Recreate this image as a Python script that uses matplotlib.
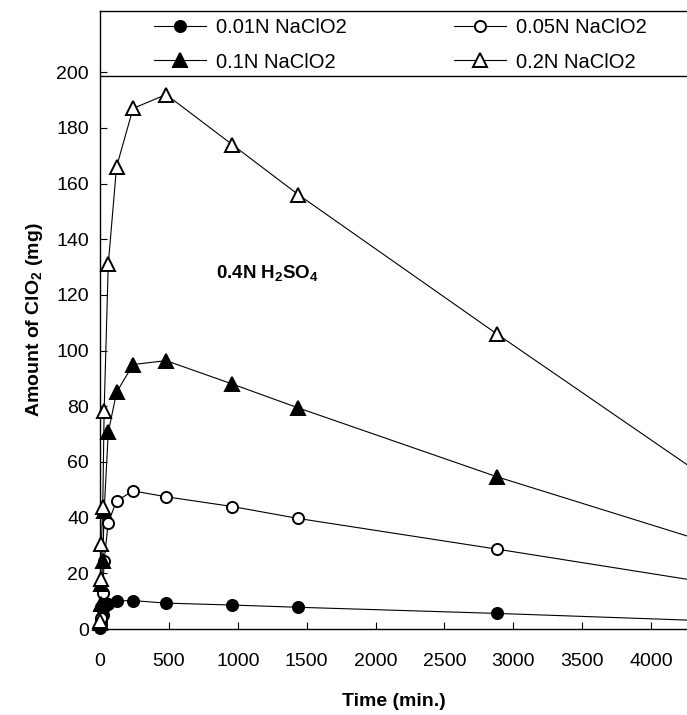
import matplotlib
matplotlib.use("Agg")
import matplotlib.pyplot as plt
from matplotlib.lines import Line2D

plt.rcParams['font.family'] = ['Liberation Sans', 'DejaVu Sans']
plt.rcParams['mathtext.fontset'] = 'custom'
plt.rcParams['mathtext.rm'] = 'Liberation Sans'
plt.rcParams['mathtext.bf'] = 'Liberation Sans:bold'

# time (min)
time = [1, 5, 10, 20, 30, 60, 120, 240, 480, 960, 1440, 2880, 4320]

naclo2_001 = [0.5, 1.5, 3, 5, 8, 9, 10.1, 10.2, 9.3, 8.6, 7.8, 5.6, 3.1]
naclo2_005 = [1, 4, 8, 13, 24.5, 38.2, 46, 49.6, 47.5, 44, 39.7, 28.7, 17.4]
naclo2_01 = [2, 9, 16, 24.5, 42.4, 70.6, 85, 95, 96.4, 88, 79.4, 54.7, 32.5]
naclo2_02 = [3, 17.9, 30.5, 44, 78.4, 131, 166, 187, 192, 174, 156, 106, 57]

labels = ['0.01N NaClO2', '0.05N NaClO2', '0.1N NaClO2', '0.2N NaClO2']
x_ticks = [0, 500, 1000, 1500, 2000, 2500, 3000, 3500, 4000]
y_ticks = [0, 20, 40, 60, 80, 100, 120, 140, 160, 180, 200]
x_max = 4260

fig = plt.figure(figsize=(6.87, 7.15), dpi=100)
ax = fig.add_axes([100/687, 1 - 629/715, 587/687, 618/715])

lw = 0.8
mew = 1.4
series = [
    (naclo2_001, 'o', 8, 'black'),
    (naclo2_005, 'o', 8, 'white'),
    (naclo2_01, '^', 9.5, 'black'),
    (naclo2_02, '^', 9.5, 'white'),
]
handles = []
for vals, mk, ms, fc in series:
    ax.plot(time, vals, '-', color='black', lw=lw)
    vis = [(t, v) for t, v in zip(time, vals) if t <= x_max]
    ax.plot([p[0] for p in vis], [p[1] for p in vis], linestyle='none', marker=mk,
            ms=ms, mfc=fc, mec='black', mew=mew, clip_on=False, zorder=3)
    handles.append(Line2D([], [], color='black', lw=lw, marker=mk, ms=ms, mfc=fc,
                          mec='black', mew=mew))

ax.set_xlim(0, x_max)
ax.set_ylim(0, 222)
ax.set_xticks(x_ticks)
ax.set_yticks(y_ticks)
ax.tick_params(direction='in', length=5, width=0.8, labelsize=14, pad=8)
ax.tick_params(axis='x', pad=17)
ax.spines['right'].set_visible(False)
for s in ['left', 'bottom', 'top']:
    ax.spines[s].set_linewidth(1.0)
ax.axhline(198.5, color='black', lw=1.0)

ax.set_xlabel('Time (min.)', fontsize=14, fontweight='bold', labelpad=17)
ax.set_ylabel(r'Amount of ClO$_\mathbf{2}$ (mg)', fontsize=14, fontweight='bold', labelpad=8)

ax.text(840, 127.7, r'0.4N H$_\mathbf{2}$SO$_\mathbf{4}$', fontsize=13.5,
        fontweight='bold', va='center', ha='left')

kw = dict(loc='upper left', frameon=False, ncol=1, fontsize=14.5, handlelength=2.6,
          handletextpad=0.5, borderpad=0, borderaxespad=0, labelspacing=0.75)
leg1 = ax.legend([handles[0], handles[2]], [labels[0], labels[2]],
                 bbox_to_anchor=(0.092, 0.988), **kw)
ax.add_artist(leg1)
ax.legend([handles[1], handles[3]], [labels[1], labels[3]],
          bbox_to_anchor=(0.603, 0.988), **kw)

fig.savefig('out.png', dpi=100)
